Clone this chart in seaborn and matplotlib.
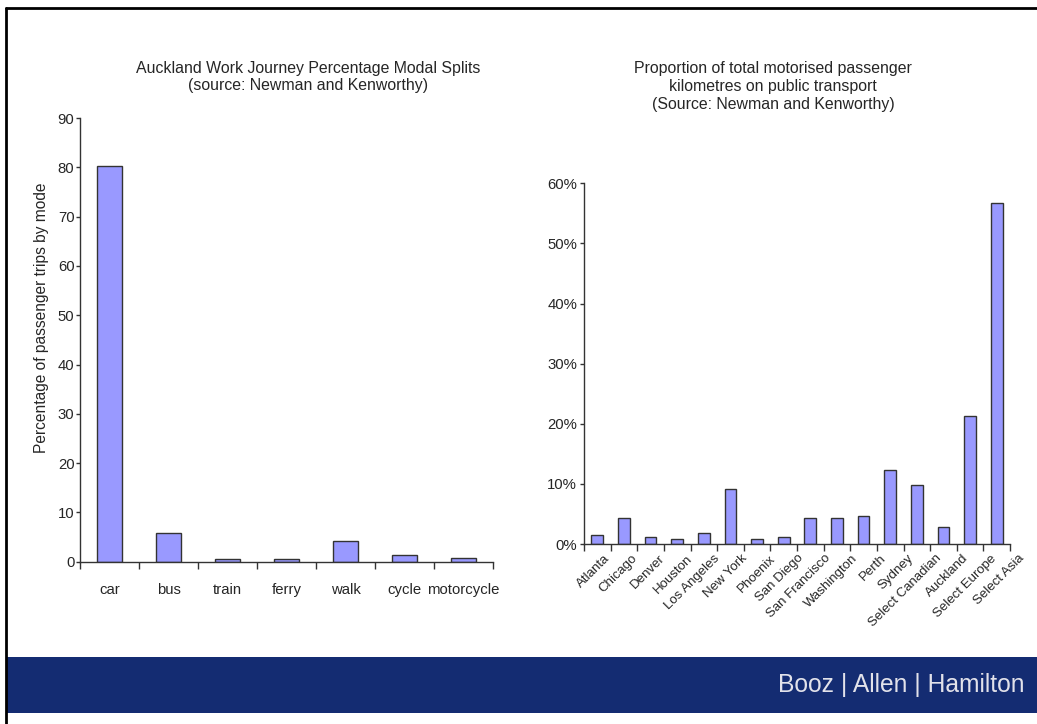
import matplotlib
matplotlib.use("Agg")
import matplotlib.pyplot as plt
from matplotlib.lines import Line2D
from matplotlib.patches import Rectangle
from matplotlib.ticker import PercentFormatter, FixedLocator
from matplotlib.transforms import ScaledTranslation
import seaborn as sns
import pandas as pd

# Auckland work journey modal split (% of passenger trips)
modes = ["car", "bus", "train", "ferry", "walk", "cycle", "motorcycle"]
mode_share = [80.2, 5.8, 0.5, 0.5, 4.3, 1.4, 0.8]

# Share of motorised passenger km on public transport
cities = ["Atlanta", "Chicago", "Denver", "Houston", "Los Angeles", "New York",
          "Phoenix", "San Diego", "San Francisco", "Washington", "Perth",
          "Sydney", "Select Canadian", "Auckland", "Select Europe", "Select Asia"]
pt_share = [0.015, 0.043, 0.012, 0.008, 0.018, 0.091, 0.008, 0.012, 0.043,
            0.043, 0.046, 0.123, 0.098, 0.029, 0.213, 0.567]

left_title = "Auckland Work Journey Percentage Modal Splits\n(source: Newman and Kenworthy)"
right_title = ("Proportion of total motorised passenger\nkilometres on public transport\n"
               "(Source: Newman and Kenworthy)")
brand = "Booz | Allen | Hamilton"

sns.set_theme(style="white")
plt.rcParams["font.family"] = ["Liberation Sans", "DejaVu Sans"]

BAR = "#9999FF"
EDGE = "#333333"

fig = plt.figure(figsize=(10.37, 7.24), dpi=100)
W, H = 1037, 724


def box(x0, y0, x1, y1):
    return [x0 / W, 1 - y1 / H, (x1 - x0) / W, (y1 - y0) / H]


# ---- left panel: modal splits ----
ax1 = fig.add_axes(box(80, 118, 493, 561.7))
df1 = pd.DataFrame({"mode": modes, "share": mode_share})
sns.barplot(data=df1, x="mode", y="share", ax=ax1, color=BAR, width=0.42,
            edgecolor=EDGE, linewidth=1, saturation=1)
ax1.set_ylim(0, 90)
ax1.set_yticks(range(0, 91, 10))
ax1.set_xlim(-0.5, len(modes) - 0.5)
ax1.set_xlabel("")
ax1.set_ylabel("Percentage of passenger trips by mode", fontsize=11.2)
ax1.yaxis.set_label_coords(-0.074, 0.549)
ax1.tick_params(axis="x", which="major", length=0, pad=15, labelsize=10.7)
ax1.xaxis.set_minor_locator(FixedLocator([i - 0.5 for i in range(len(modes) + 1)]))
ax1.tick_params(axis="x", which="minor", bottom=True, length=5, width=1, color="#333333", direction="out")
ax1.tick_params(axis="y", left=True, length=3, width=1, color="#333333", direction="out",
                pad=1, labelsize=10.7)
for s in ["top", "right"]:
    ax1.spines[s].set_visible(False)
for s in ["left", "bottom"]:
    ax1.spines[s].set_color("#333333")
    ax1.spines[s].set_linewidth(1)
fig.text(308 / W, 1 - 77 / H, left_title, ha="center", va="center", fontsize=11.4,
         linespacing=1.22)

# ---- right panel: public transport share ----
ax2 = fig.add_axes(box(584, 183.3, 1010, 544))
df2 = pd.DataFrame({"city": cities, "share": pt_share})
sns.barplot(data=df2, x="city", y="share", ax=ax2, color=BAR, width=0.44,
            edgecolor=EDGE, linewidth=1, saturation=1)
ax2.set_ylim(0, 0.6)
ax2.set_yticks([0, 0.1, 0.2, 0.3, 0.4, 0.5, 0.6])
ax2.yaxis.set_major_formatter(PercentFormatter(1.0, decimals=0))
ax2.set_xlim(-0.5, len(cities) - 0.5)
ax2.set_xlabel("")
ax2.set_ylabel("")
ax2.tick_params(axis="x", which="major", length=0, pad=6, labelsize=9.5)
for i, lab in enumerate(ax2.get_xticklabels()):
    lab.set_rotation(45)
    lab.set_ha("right")
    lab.set_rotation_mode("anchor")
    # category labels fan out slightly wider than the bars
    shift = (6 + i * 1.0) / 100
    lab.set_transform(lab.get_transform() + ScaledTranslation(shift, 0, fig.dpi_scale_trans))
ax2.xaxis.set_minor_locator(FixedLocator([i - 0.5 for i in range(len(cities) + 1)]))
ax2.tick_params(axis="x", which="minor", bottom=True, length=5, width=1, color="#333333", direction="out")
ax2.tick_params(axis="y", left=True, length=3, width=1, color="#333333", direction="out",
                pad=2, labelsize=10.7)
for s in ["top", "right"]:
    ax2.spines[s].set_visible(False)
for s in ["left", "bottom"]:
    ax2.spines[s].set_color("#333333")
    ax2.spines[s].set_linewidth(1)
fig.text(773 / W, 1 - 87 / H, right_title, ha="center", va="center", fontsize=11.4,
         linespacing=1.25)

# ---- slide frame and brand banner ----
fig.add_artist(Line2D([6 / W, 1], [1 - 8 / H, 1 - 8 / H], color="black", lw=2,
                      transform=fig.transFigure))
fig.add_artist(Line2D([6 / W, 6 / W], [0, 1 - 8 / H], color="black", lw=2,
                      transform=fig.transFigure))
fig.add_artist(Rectangle((7 / W, 1 - 713 / H), 1 - 7 / W, 56 / H, facecolor="#142C72",
                         edgecolor="none", transform=fig.transFigure))
fig.text(1025 / W, 1 - 685 / H, brand, ha="right", va="center", fontsize=17.7,
         color="#E2E2EA")

fig.savefig("out.png", dpi=100, facecolor="white")
